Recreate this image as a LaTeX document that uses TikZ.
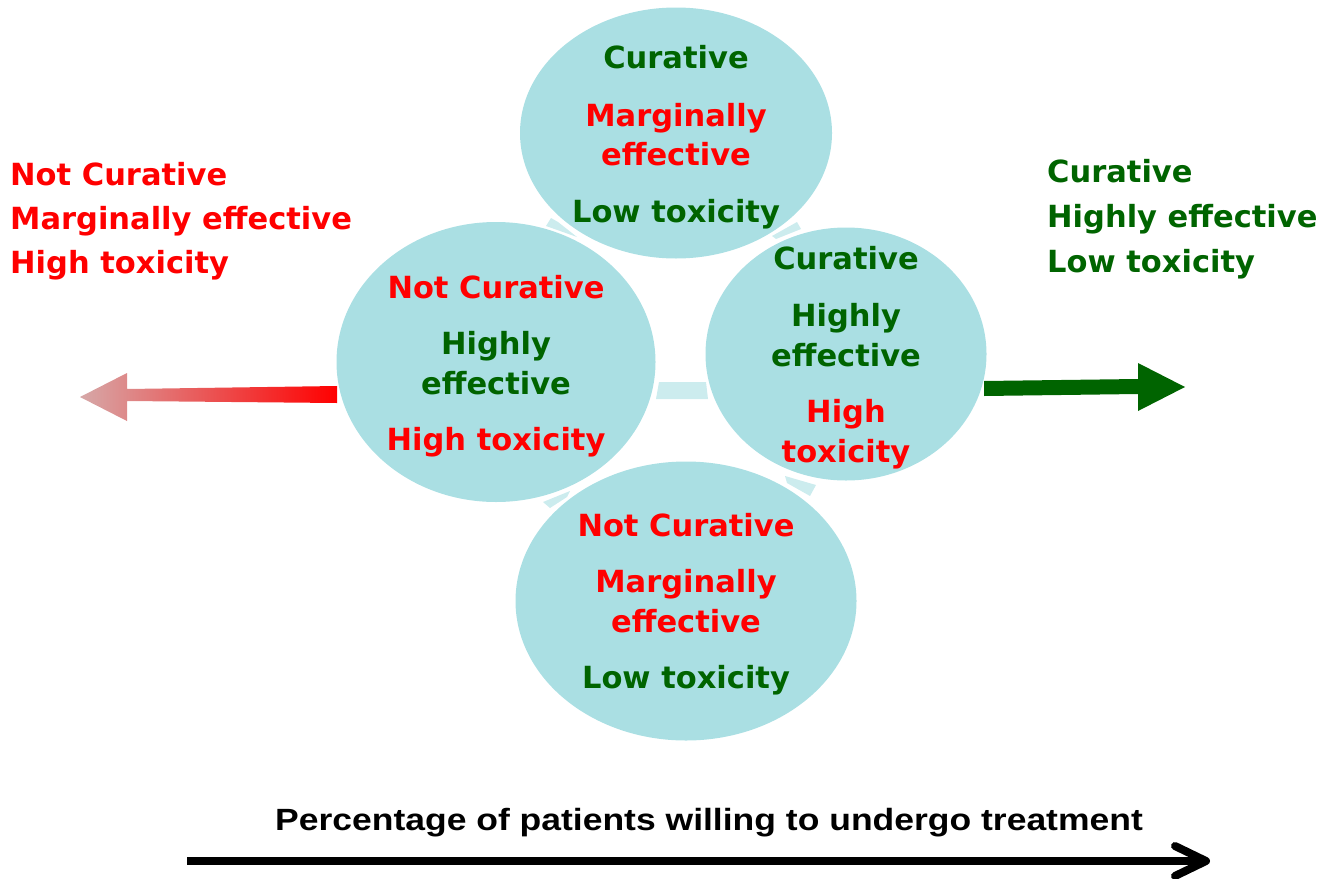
\documentclass[tikz,border=0pt]{standalone}
\usepackage{fontspec}
\usetikzlibrary{shapes.geometric}
\newfontfamily\dvfont{DejaVu Sans}
\newfontfamily\lsfont{Liberation Sans}
\definecolor{cyanfill}{RGB}{170,223,227}
\definecolor{dgreen}{RGB}{0,100,0}
\definecolor{pred}{RGB}{255,0,0}
\definecolor{fadered}{RGB}{214,168,168}
\begin{document}
\begin{tikzpicture}[x=1pt,y=-1pt,
  bubble/.style={ellipse, fill=cyanfill, draw=none, inner sep=0pt},
  piece/.style={fill=cyanfill, fill opacity=0.6, draw=none},
  lbl/.style={anchor=base, inner sep=0pt, font=\dvfont\bfseries\fontsize{30.5}{36}\selectfont},
  gl/.style={lbl, text=dgreen},
  rl/.style={lbl, text=pred},
  sidel/.style={lbl, anchor=base west}
]
\useasboundingbox (0,0) rectangle (1332,878);

% faint connector pieces (behind bubbles)
\fill[piece] (659,382) -- (706,382) -- (708,399) -- (656,399) -- cycle;
\fill[piece] (551,218) -- (558,222) -- (577,237) -- (546,226) -- cycle;
\fill[piece] (797,222) -- (801,229) -- (776,239) -- (772,236) -- cycle;
\fill[piece] (543,502) -- (570,491) -- (567,497) -- (550,508) -- cycle;
\fill[piece] (785,476) -- (816,485) -- (810,496) -- (787,483) -- cycle;

% bubbles
\node[bubble, minimum width=312, minimum height=251] (topb) at (676,133) {};
\node[bubble, minimum width=319, minimum height=280] (leftb) at (496,362) {};
\node[bubble, minimum width=281, minimum height=253] (rightb) at (846,354) {};
\node[bubble, minimum width=341, minimum height=279] (botb) at (686,601) {};

% top bubble text
\node[gl] (t1) at (676,68) {Curative};
\node[rl] (t2) at (676,126) {Marginally};
\node[rl] (t3) at (676,165) {effective};
\node[gl] (t4) at (676,222) {Low toxicity};

% left bubble text
\node[rl] (l1) at (496,298) {Not Curative};
\node[gl] (l2) at (496,354) {Highly};
\node[gl] (l3) at (496,394) {effective};
\node[rl] (l4) at (496,450) {High toxicity};

% right bubble text
\node[gl] (r1) at (846,269) {Curative};
\node[gl] (r2) at (846,326) {Highly};
\node[gl] (r3) at (846,366) {effective};
\node[rl] (r4) at (846,422) {High};
\node[rl] (r5) at (846,462) {toxicity};

% bottom bubble text
\node[rl] (b1) at (686,536) {Not Curative};
\node[rl] (b2) at (686,592) {Marginally};
\node[rl] (b3) at (686,632) {effective};
\node[gl] (b4) at (686,688) {Low toxicity};

% side texts
\node[sidel, text=pred] (sl1) at (10,185) {Not Curative};
\node[sidel, text=pred] (sl2) at (10,229) {Marginally effective};
\node[sidel, text=pred] (sl3) at (10,273) {High toxicity};
\node[sidel, text=dgreen] (sr1) at (1047,182) {Curative};
\node[sidel, text=dgreen] (sr2) at (1047,227) {Highly effective};
\node[sidel, text=dgreen] (sr3) at (1047,272) {Low toxicity};

% red fading arrow
\shade[left color=fadered, right color=pred]
  (337,386) -- (127,389) -- (127,373) -- (80,397) -- (127,421) -- (127,401) -- (337,403) -- cycle;

% green arrow
\fill[dgreen]
  (984,381) -- (1138,379) -- (1138,363) -- (1185,387) -- (1138,411) -- (1138,394) -- (984,396) -- cycle;

% axis label and arrow
\node[anchor=base, inner sep=0pt, font=\lsfont\bfseries\fontsize{30.7}{35}\selectfont] (axl) at (709,830)
  {\scalebox{1.156}[1]{Percentage of patients willing to undergo treatment}};
\coordinate (axs) at (187,861);
\coordinate (axe) at (1204,861);
\draw[line width=8] (axs) -- (axe);
\draw[line width=8, line cap=round, line join=round] (1175,846) -- (1206,861) -- (1175,876);
\end{tikzpicture}
\end{document}
